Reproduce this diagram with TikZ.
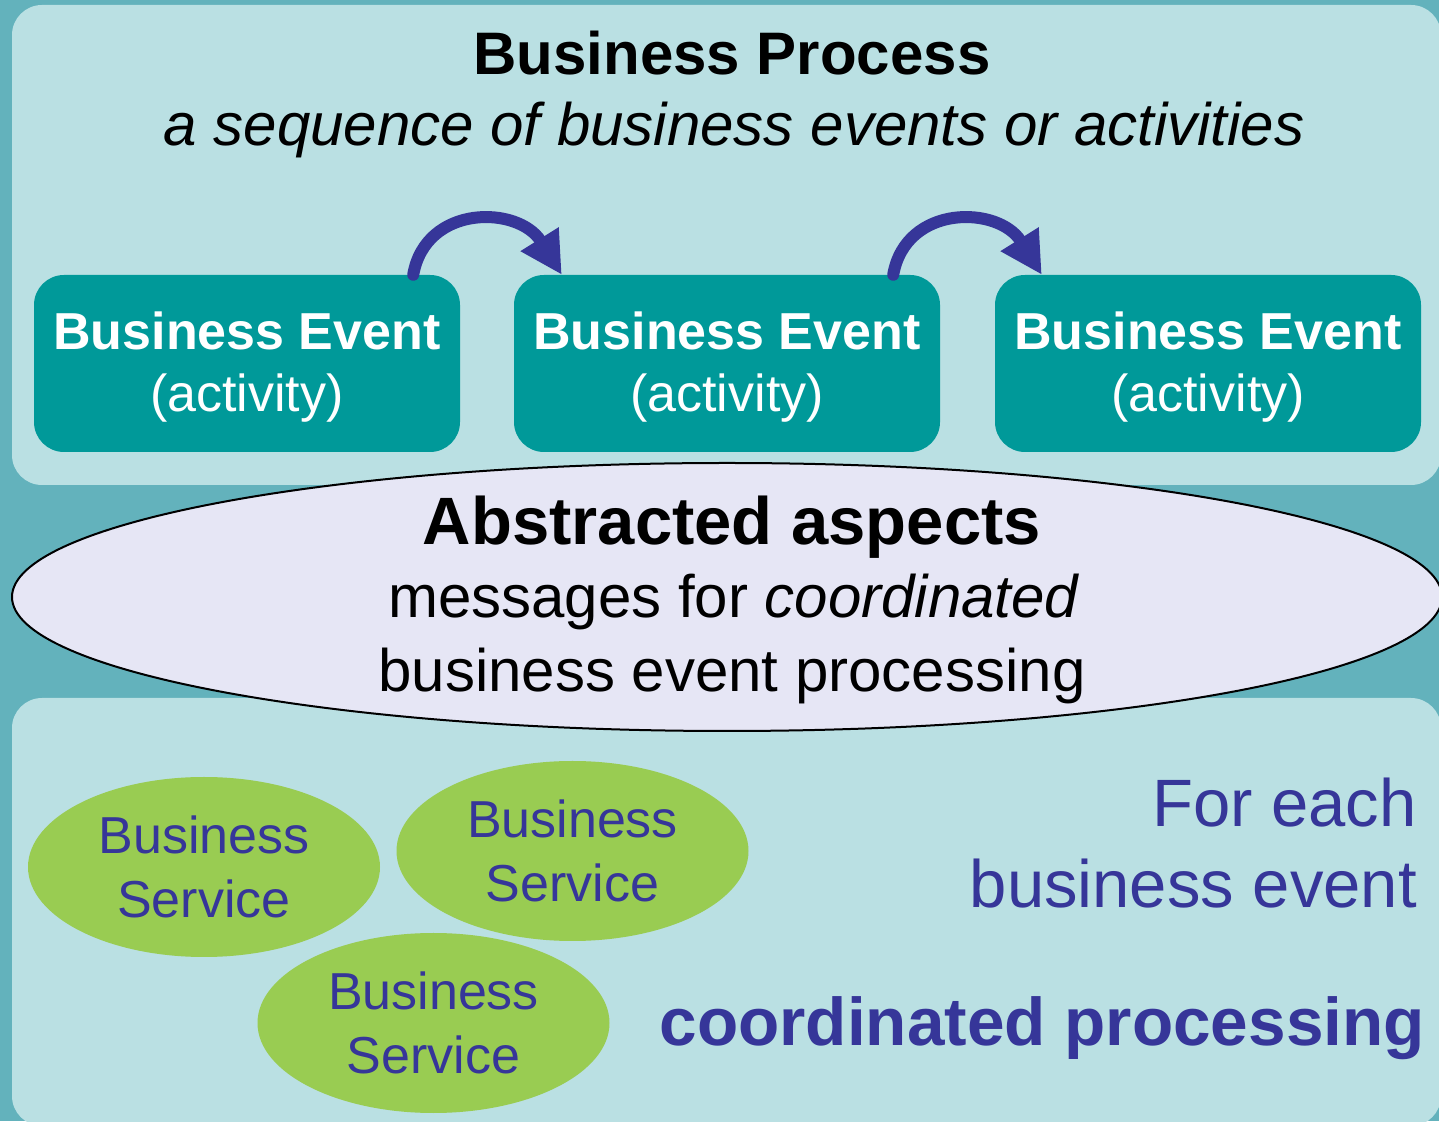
\documentclass[tikz,border=0pt]{standalone}
\usepackage{fontspec}
\setmainfont{Liberation Sans}
\usetikzlibrary{shapes.geometric,arrows.meta}
\definecolor{bgteal}{HTML}{63B2BC}
\definecolor{panelc}{HTML}{BAE0E3}
\definecolor{evfill}{HTML}{009999}
\definecolor{lav}{HTML}{E6E6F5}
\definecolor{svcgreen}{HTML}{99CC52}
\definecolor{navy}{HTML}{363699}
\begin{document}
\begin{tikzpicture}[x=1pt,y=1pt,
  panelbox/.style={fill=panelc, rounded corners=30pt},
  eventbox/.style={fill=evfill, rounded corners=30pt, minimum width=426pt,
    minimum height=177pt, inner sep=0pt, text=white, align=center,
    font={\fontsize{52}{62}\selectfont}},
  svcnode/.style={ellipse, fill=svcgreen, minimum width=352pt, minimum height=180pt,
    inner sep=0pt, text=navy, align=center, font={\fontsize{52}{64}\selectfont}},
  plain/.style={inner sep=0pt, anchor=base},
  flow/.style={draw=navy, line width=12pt, line cap=round,
    -{Triangle[length=42pt,width=42pt]}}
]
\useasboundingbox (0,0) rectangle (1439,1121);
\fill[bgteal] (0,0) rectangle (1439,1121);
% panels
\fill[panelbox] (12,636) rectangle (1441,1116);
\fill[panelbox] (12,-5) rectangle (1441,423);

% titles
\node[plain, font={\fontsize{60}{72}\selectfont\bfseries}] (title) at (732,1046) {Business Process};
\node[plain, font={\fontsize{60}{72}\selectfont\itshape}] (subtitle) at (734,975) {a sequence of business events or activities};

% event boxes
\node[eventbox] (e1) at (247,757.5) {\rule{0pt}{44pt}\textbf{Business Event}\\(activity)};
\node[eventbox] (e2) at (727,757.5) {\rule{0pt}{44pt}\textbf{Business Event}\\(activity)};
\node[eventbox] (e3) at (1208,757.5) {\rule{0pt}{44pt}\textbf{Business Event}\\(activity)};

% arrows
\draw[flow] ([xshift=-47pt]e1.north east) .. controls +(80:72) and +(122:82) .. ([xshift=48pt]e2.north west);
\draw[flow] ([xshift=-47pt]e2.north east) .. controls +(80:72) and +(122:82) .. ([xshift=47pt]e3.north west);

% abstracted aspects ellipse
\node[ellipse, draw=black, line width=2pt, fill=lav, minimum width=1430pt,
  minimum height=268pt, inner sep=0pt] (abs) at (727,524) {};
\node[plain, font={\fontsize{67}{80}\selectfont\bfseries}] (abst) at (732,576) {Abstracted aspects};
\node[plain, font={\fontsize{60}{72}\selectfont}] (absm) at (734,503) {messages for \textit{coordinated}};
\node[plain, font={\fontsize{60}{72}\selectfont}] (absb) at (732,429) {business event processing};

% services
\node[svcnode] (s1) at (204,254) {Business\\Service};
\node[svcnode] (s2) at (572.5,270) {Business\\Service};
\node[svcnode] (s3) at (433.5,98) {Business\\Service};

% right texts
\node[inner sep=0pt, anchor=base east, text=navy, font={\fontsize{67}{80}\selectfont}] (fe) at (1417,294) {For each};
\node[inner sep=0pt, anchor=base east, text=navy, font={\fontsize{67}{80}\selectfont}] (be) at (1417,213) {business event};
\node[inner sep=0pt, anchor=base east, text=navy, font={\fontsize{67.5}{80}\selectfont\bfseries}] (cp) at (1425,75) {coordinated processing};
\end{tikzpicture}
\end{document}
